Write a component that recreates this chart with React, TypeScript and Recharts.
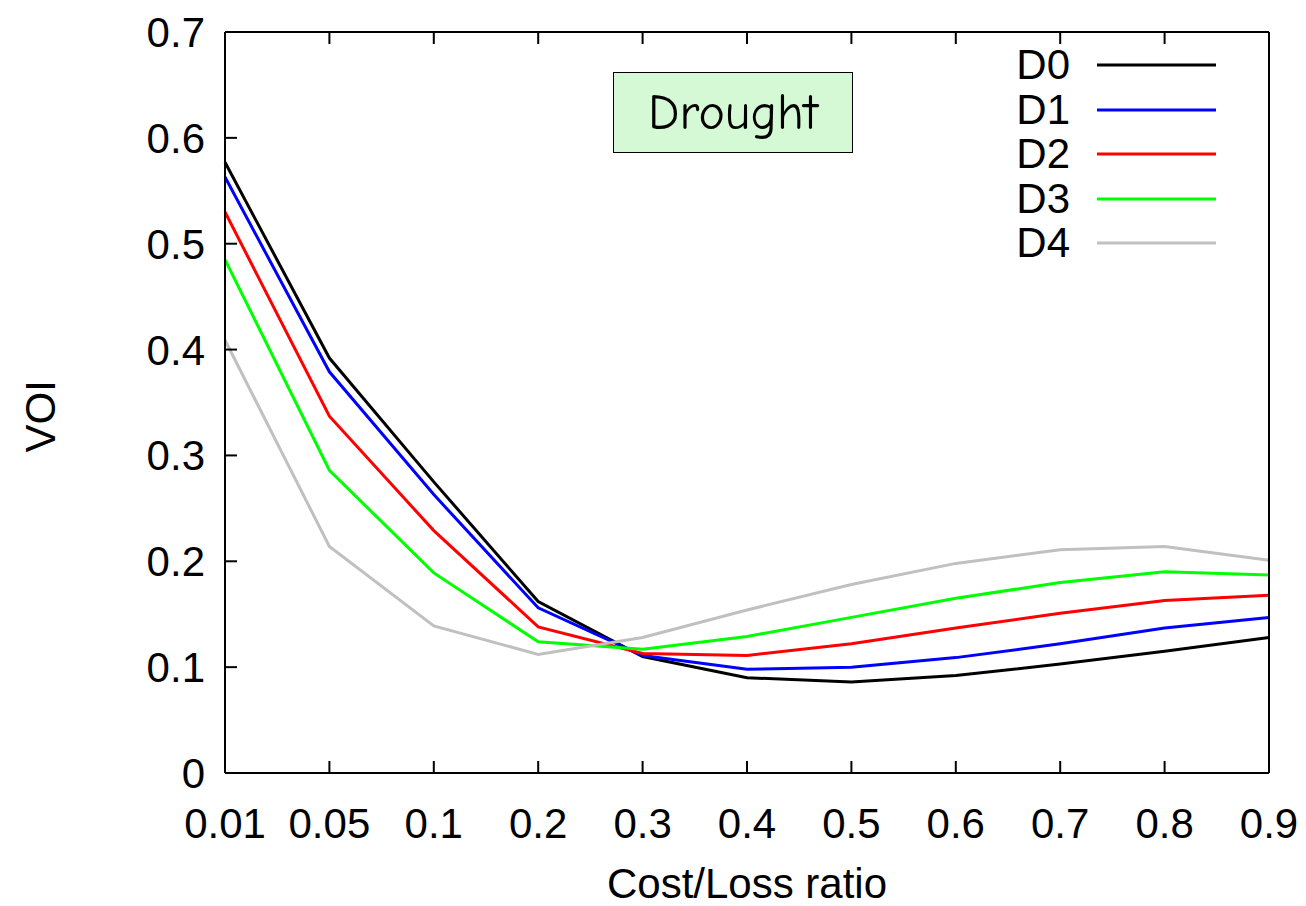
import { Legend, Line, LineChart, XAxis, YAxis } from 'recharts'

const categories = ['0.01', '0.05', '0.1', '0.2', '0.3', '0.4', '0.5', '0.6', '0.7', '0.8', '0.9']
const d0 = [0.577, 0.392, 0.275, 0.162, 0.11, 0.09, 0.086, 0.092, 0.103, 0.115, 0.128]
const d1 = [0.563, 0.379, 0.263, 0.156, 0.111, 0.098, 0.1, 0.109, 0.122, 0.137, 0.147]
const d2 = [0.53, 0.337, 0.229, 0.138, 0.113, 0.111, 0.122, 0.137, 0.151, 0.163, 0.168]
const d3 = [0.485, 0.286, 0.189, 0.124, 0.117, 0.129, 0.147, 0.165, 0.18, 0.19, 0.187]
const d4 = [0.409, 0.214, 0.139, 0.112, 0.128, 0.154, 0.178, 0.198, 0.211, 0.214, 0.201]
const yTicks = [0, 0.1, 0.2, 0.3, 0.4, 0.5, 0.6, 0.7]

const SERIES = [
  { key: 'D0', values: d0, color: '#000000' },
  { key: 'D1', values: d1, color: '#0000ff' },
  { key: 'D2', values: d2, color: '#ff0000' },
  { key: 'D3', values: d3, color: '#00ff00' },
  { key: 'D4', values: d4, color: '#c0c0c0' },
]

const data = categories.map((c, i) => {
  const row: Record<string, string | number> = { x: c }
  SERIES.forEach((s) => {
    row[s.key] = s.values[i]
  })
  return row
})

const FONT = '"Liberation Sans", Arial, Helvetica, sans-serif'
const FS = 42
const TICK = 12

const fmtY = (v: number) => (v === 0 ? '0' : v.toFixed(1))

function LeftTick({ x, y, payload }: any) {
  return (
    <g>
      <line x1={x} x2={x + TICK} y1={y} y2={y} stroke="#000" strokeWidth={2} />
      <text x={x - 20} y={y + 15} textAnchor="end" fontSize={FS} fontFamily={FONT} fill="#000">
        {fmtY(payload.value)}
      </text>
    </g>
  )
}

function RightTick({ x, y }: any) {
  return <line x1={x} x2={x - TICK} y1={y} y2={y} stroke="#000" strokeWidth={2} />
}

function BottomTick({ x, y, payload }: any) {
  return (
    <g>
      <line x1={x} x2={x} y1={y} y2={y - TICK} stroke="#000" strokeWidth={2} />
      <text x={x} y={y + 65} textAnchor="middle" fontSize={FS} fontFamily={FONT} fill="#000">
        {payload.value}
      </text>
    </g>
  )
}

function TopTick({ x, y }: any) {
  return <line x1={x} x2={x} y1={y} y2={y + TICK} stroke="#000" strokeWidth={2} />
}

function LegendBox({ payload }: any) {
  return (
    <div style={{ fontFamily: FONT, fontSize: FS, color: '#000' }}>
      {(payload ?? []).map((e: any) => (
        <div key={e.value} style={{ display: 'flex', alignItems: 'center', height: 44.5 }}>
          <span style={{ width: 70, textAlign: 'right', lineHeight: 1 }}>{e.value}</span>
          <svg width={146} height={10} style={{ display: 'block' }}>
            <line x1={27} x2={146} y1={5} y2={5} stroke={e.color} strokeWidth={3} />
          </svg>
        </div>
      ))}
    </div>
  )
}

export default function App() {
  return (
    <div style={{ position: 'absolute', left: 0, top: 0, width: 1306, height: 906, background: '#fff' }}>
      <LineChart
        width={1306}
        height={906}
        data={data}
        margin={{ top: 31, right: 36, left: 0, bottom: 0 }}
      >
        <XAxis
          dataKey="x"
          type="category"
          padding={{ left: 0, right: 0 }}
          height={133}
          interval={0}
          tickSize={0}
          tickMargin={0}
          tickLine={false}
          tick={<BottomTick />}
          axisLine={{ stroke: '#000', strokeWidth: 2 }}
          label={{
            value: 'Cost/Loss ratio',
            position: 'insideBottom',
            offset: 8,
            fontSize: FS,
            fontFamily: FONT,
            fill: '#000',
          }}
        />
        <XAxis
          xAxisId="top"
          dataKey="x"
          type="category"
          orientation="top"
          padding={{ left: 0, right: 0 }}
          height={1}
          interval={0}
          tickSize={0}
          tickMargin={0}
          tickLine={false}
          tick={<TopTick />}
          axisLine={{ stroke: '#000', strokeWidth: 2 }}
        />
        <YAxis
          type="number"
          domain={[0, 0.7]}
          ticks={yTicks}
          width={225}
          interval={0}
          tickSize={0}
          tickMargin={0}
          tickLine={false}
          tick={<LeftTick />}
          axisLine={{ stroke: '#000', strokeWidth: 2 }}
          label={{
            value: 'VOI',
            angle: -90,
            position: 'insideLeft',
            offset: 40,
            dy: 50,
            fontSize: FS,
            fontFamily: FONT,
            fill: '#000',
          }}
        />
        <YAxis
          yAxisId="right"
          orientation="right"
          type="number"
          domain={[0, 0.7]}
          ticks={yTicks}
          width={1}
          interval={0}
          tickSize={0}
          tickMargin={0}
          tickLine={false}
          tick={<RightTick />}
          axisLine={{ stroke: '#000', strokeWidth: 2 }}
        />
        <Legend
          layout="vertical"
          align="center"
          verticalAlign="middle"
          content={<LegendBox />}
          wrapperStyle={{ left: 1000, top: 43, width: 230 }}
        />
        {SERIES.map((s) => (
          <Line
            key={s.key}
            dataKey={s.key}
            name={s.key}
            stroke={s.color}
            strokeWidth={3}
            dot={false}
            activeDot={false}
            isAnimationActive={false}
          />
        ))}
      </LineChart>
      <div
        style={{
          position: 'absolute',
          left: 613,
          top: 72,
          width: 240,
          height: 81,
          boxSizing: 'border-box',
          border: '1.5px solid #000',
          background: '#d5f9d5',
          display: 'flex',
          alignItems: 'center',
          justifyContent: 'center',
          fontFamily: '"Comic Sans MS", "Comic Neue", "DejaVu Sans", sans-serif',
          fontSize: 50,
          color: '#000',
        }}
      >
        Drought
      </div>
    </div>
  )
}
